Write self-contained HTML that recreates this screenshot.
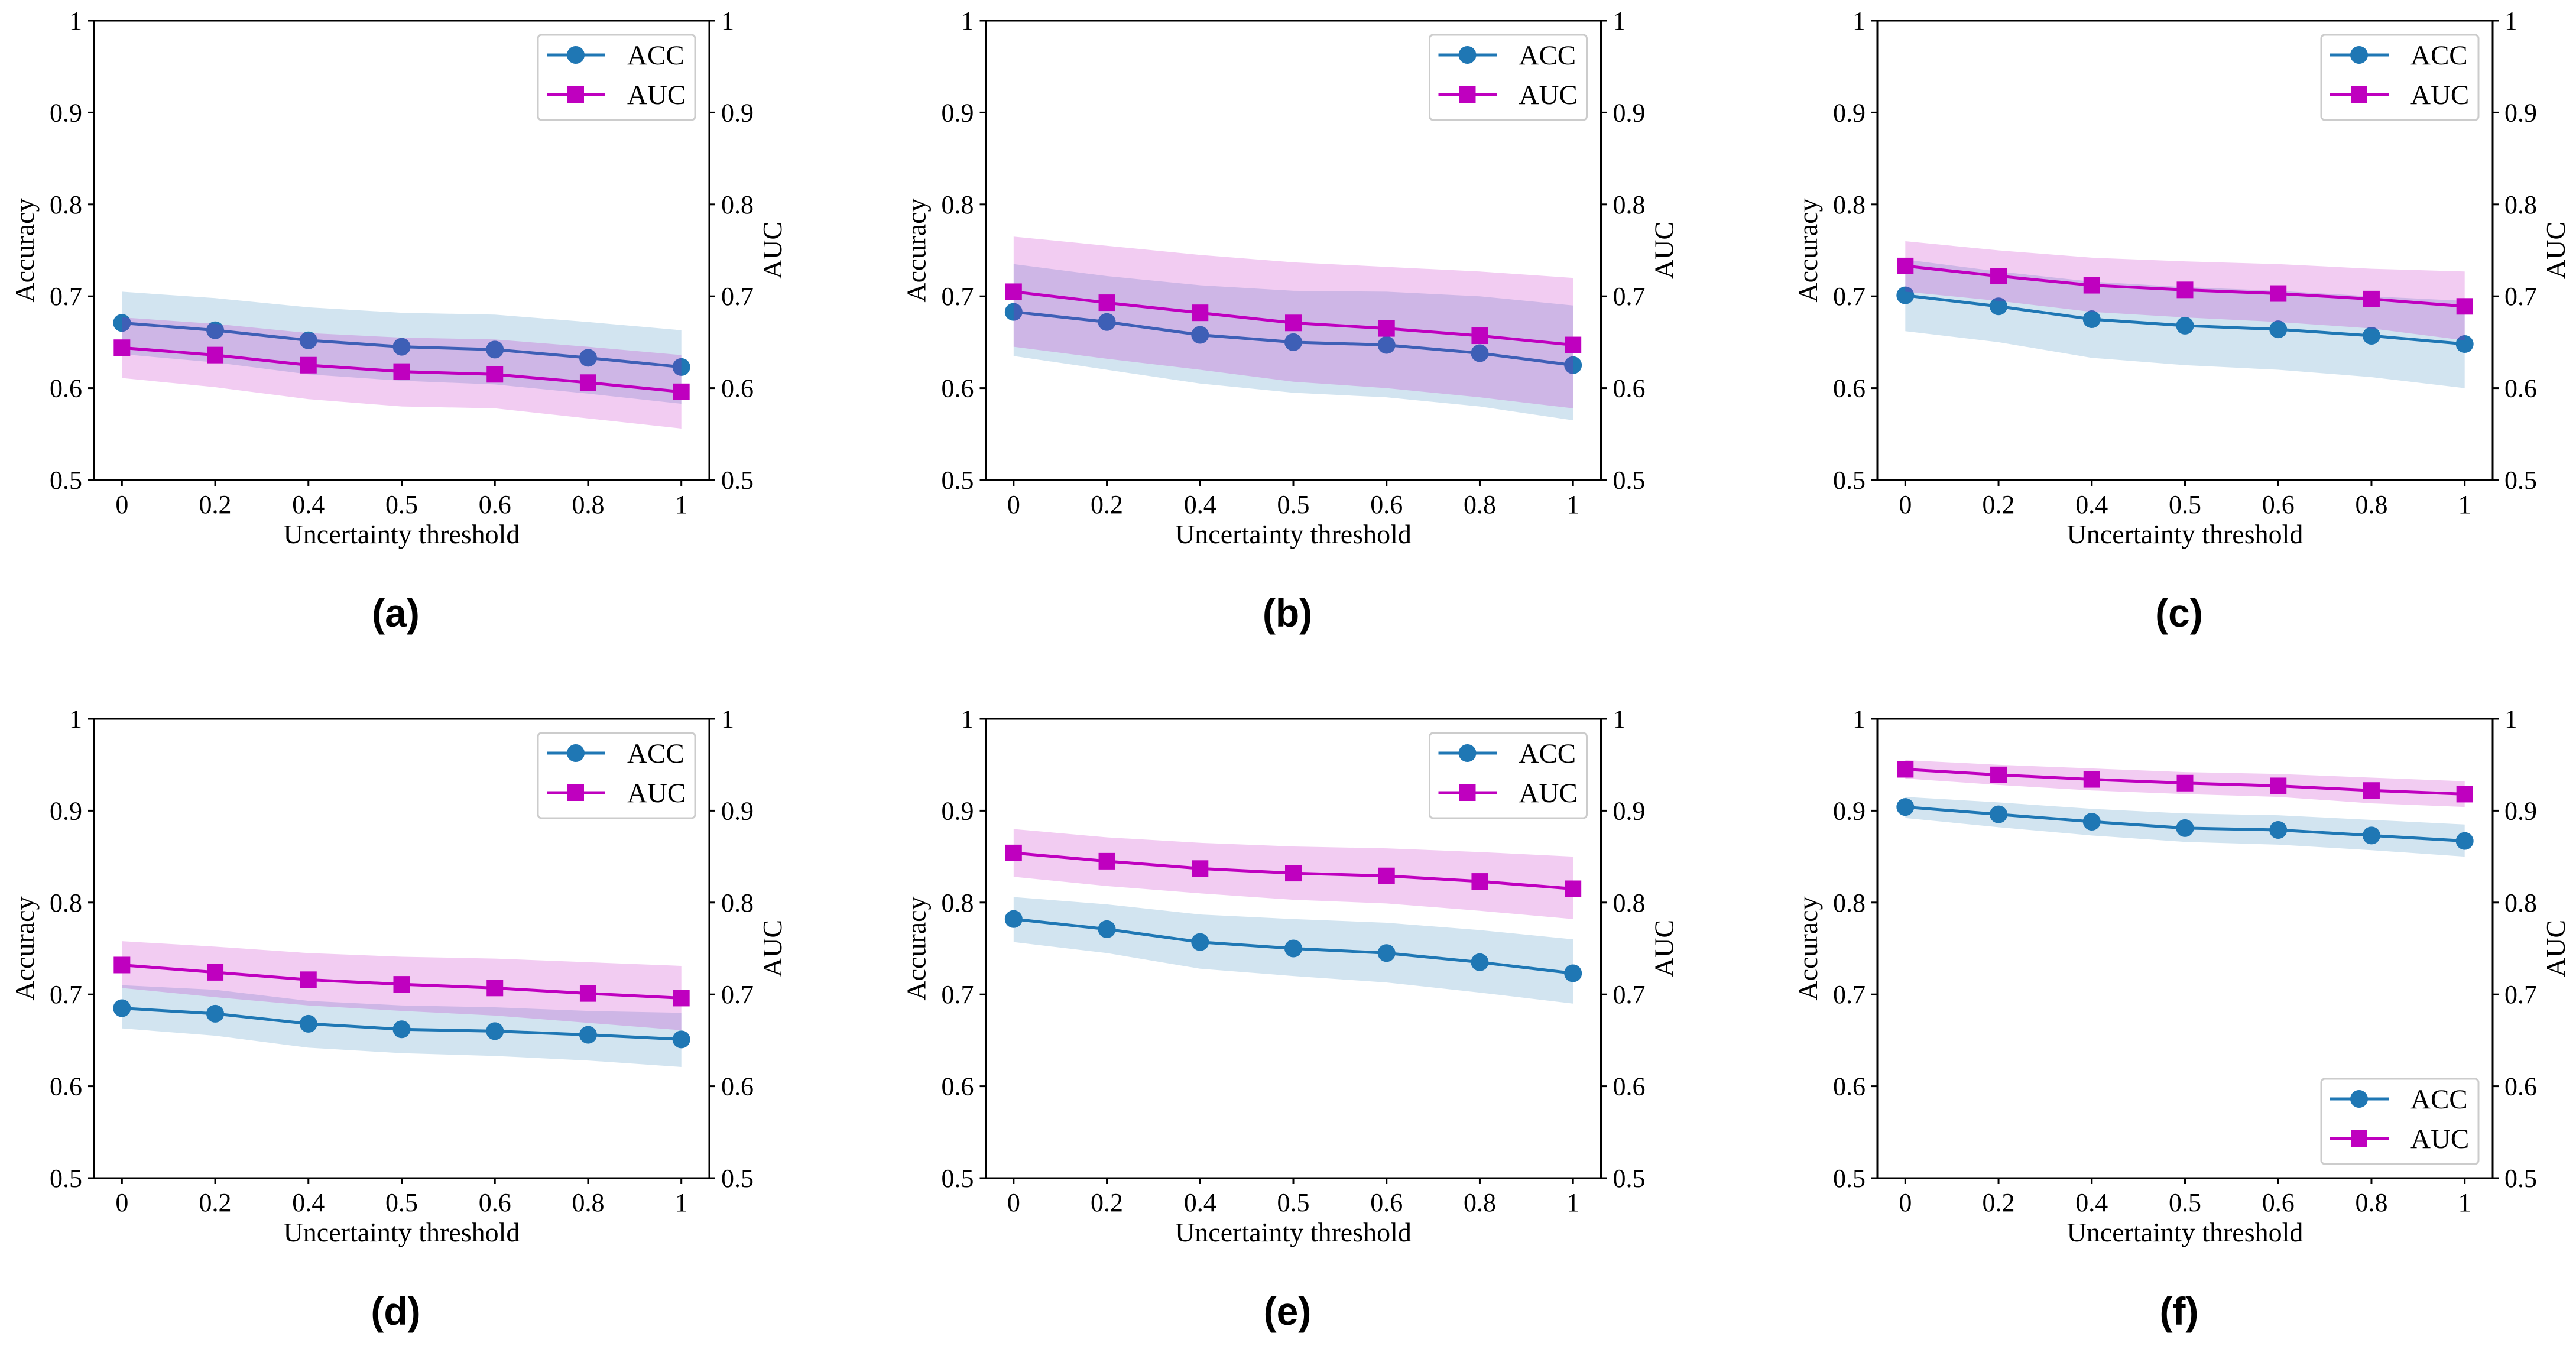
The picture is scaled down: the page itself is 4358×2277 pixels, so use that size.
<!DOCTYPE html>
<html><head><meta charset="utf-8"><style>
html,body{margin:0;padding:0;background:#fff}
svg{display:block}
text{font-family:"Liberation Serif",serif;fill:#000}
</style></head><body>
<svg id="fig" width="4358" height="2277" xmlns="http://www.w3.org/2000/svg"></svg>
<script>
const categories = ['0','0.2','0.4','0.5','0.6','0.8','1'];
const yTicks = [0.5,0.6,0.7,0.8,0.9,1];
const yTickLabels = ['0.5','0.6','0.7','0.8','0.9','1'];
const panelLabels = ['a','b','c','d','e','f'];
const accMean = [
 [.671,.663,.652,.645,.642,.633,.623],
 [.683,.672,.658,.650,.647,.638,.625],
 [.701,.689,.675,.668,.664,.657,.648],
 [.685,.679,.668,.662,.660,.656,.651],
 [.782,.771,.757,.750,.745,.735,.723],
 [.904,.896,.888,.881,.879,.873,.867]];
const accUpper = [
 [.705,.698,.688,.682,.680,.672,.663],
 [.735,.722,.712,.706,.705,.700,.690],
 [.740,.727,.716,.710,.706,.700,.695],
 [.710,.705,.693,.688,.686,.682,.680],
 [.806,.798,.787,.782,.778,.770,.760],
 [.915,.909,.902,.897,.895,.890,.885]];
const accLower = [
 [.637,.628,.615,.608,.604,.594,.583],
 [.635,.620,.605,.595,.590,.580,.565],
 [.662,.650,.633,.625,.620,.612,.600],
 [.663,.655,.642,.636,.633,.628,.621],
 [.757,.745,.728,.720,.713,.702,.690],
 [.892,.882,.873,.866,.863,.857,.850]];
const aucMean = [
 [.644,.636,.625,.618,.615,.606,.596],
 [.705,.693,.682,.671,.665,.657,.647],
 [.733,.722,.712,.707,.703,.697,.689],
 [.732,.724,.716,.711,.707,.701,.696],
 [.854,.845,.837,.832,.829,.823,.815],
 [.945,.939,.934,.930,.927,.922,.918]];
const aucUpper = [
 [.677,.670,.660,.655,.653,.645,.636],
 [.765,.755,.745,.737,.732,.727,.720],
 [.760,.750,.742,.738,.735,.730,.727],
 [.758,.752,.745,.741,.739,.735,.731],
 [.880,.871,.865,.861,.859,.855,.850],
 [.955,.950,.946,.942,.940,.936,.932]];
const aucLower = [
 [.611,.601,.588,.580,.578,.567,.556],
 [.645,.632,.620,.607,.600,.590,.578],
 [.705,.695,.683,.677,.672,.665,.652],
 [.707,.697,.688,.682,.677,.669,.661],
 [.828,.818,.810,.803,.799,.791,.782],
 [.935,.928,.922,.918,.915,.908,.904]];

const NS='http://www.w3.org/2000/svg';
const svg=document.getElementById('fig');
function mk(tag,attrs,parent){const e=document.createElementNS(NS,tag);for(const k in attrs)e.setAttribute(k,attrs[k]);(parent||svg).appendChild(e);return e;}
const W=1041,H=777;
const BLUE='#1f77b4',MAG='#bf00bf';

for(let p=0;p<6;p++){
  const L=159+(p%3)*1508.5, T=35+Math.floor(p/3)*1181;
  const g=mk('g',{});
  
  
  const n=categories.length;
  const x0=L+W*0.05/1.1, x1=L+W-W*0.05/1.1;
  const xs=i=>x0+(x1-x0)*i/(n-1);
  const ys=v=>T+H-(v-0.5)/0.5*H;
  function band(up,lo,color,name){
    let d='M'+up.map((v,i)=>xs(i)+','+ys(v)).join('L');
    for(let i=n-1;i>=0;i--)d+='L'+xs(i)+','+ys(lo[i]);
    const e=mk('path',{d:d+'Z',fill:color,'fill-opacity':0.2},g);
    
    
  }
  function line(vals,color,name,marker){
    const e=mk('polyline',{points:vals.map((v,i)=>xs(i)+','+ys(v)).join(' '),fill:'none',stroke:color,'stroke-width':5},g);
    
    
    vals.forEach((v,i)=>{
      let m;
      if(marker==='o') m=mk('circle',{cx:xs(i),cy:ys(v),r:15,fill:color},g);
      else m=mk('rect',{x:xs(i)-14,y:ys(v)-14,width:28,height:28,fill:color},g);
      
      
    });
  }
  band(accUpper[p],accLower[p],BLUE,'acc-band');
  line(accMean[p],BLUE,'acc','o');
  band(aucUpper[p],aucLower[p],MAG,'auc-band');
  line(aucMean[p],MAG,'auc','s');
  const fr=mk('rect',{x:L,y:T,width:W,height:H,fill:'none',stroke:'#000','stroke-width':3},g);
  
  
  yTicks.forEach((v,i)=>{
    const y=ys(v);
    mk('line',{x1:L-10,x2:L,y1:y,y2:y,stroke:'#000','stroke-width':3},g);
    mk('line',{x1:L+W,x2:L+W+10,y1:y,y2:y,stroke:'#000','stroke-width':3},g);
    const t1=mk('text',{x:L-20,y:y+15,'text-anchor':'end','font-size':44},g);t1.textContent=yTickLabels[i];
    
    
    const t2=mk('text',{x:L+W+20,y:y+15,'font-size':44},g);t2.textContent=yTickLabels[i];
    
    
  });
  categories.forEach((c,i)=>{
    const x=xs(i);
    mk('line',{x1:x,x2:x,y1:T+H,y2:T+H+10,stroke:'#000','stroke-width':3},g);
    const t=mk('text',{x:x,y:T+H+56,'text-anchor':'middle','font-size':44},g);t.textContent=c;
    
    
  });
  const xl=mk('text',{x:L+W/2,y:T+H+107,'text-anchor':'middle','font-size':46},g);xl.textContent='Uncertainty threshold';
  
  
  const yl=mk('text',{x:0,y:0,'text-anchor':'middle','font-size':46,transform:`translate(${L-102},${T+H/2}) rotate(-90)`},g);yl.textContent='Accuracy';
  
  
  const yr=mk('text',{x:0,y:0,'text-anchor':'middle','font-size':46,transform:`translate(${L+W+122},${T+H/2}) rotate(-90)`},g);yr.textContent='AUC';
  
  
  const lx=L+W-290, ly=(p===5)?T+H-168:T+24;
  const lg=mk('g',{},g);
  
  
  mk('rect',{x:lx,y:ly,width:266,height:144,rx:6,fill:'#fff','fill-opacity':0.8,stroke:'#ccc','stroke-width':3},lg);
  [['ACC',BLUE,'o'],['AUC',MAG,'s']].forEach((e,k)=>{
    const cy=ly+34+k*67;
    mk('line',{x1:lx+15,x2:lx+114,y1:cy,y2:cy,stroke:e[1],'stroke-width':5},lg);
    if(e[2]==='o') mk('circle',{cx:lx+64,cy:cy,r:15,fill:e[1]},lg);
    else mk('rect',{x:lx+50,y:cy-14,width:28,height:28,fill:e[1]},lg);
    const t=mk('text',{x:lx+151,y:cy+16,'font-size':47},lg);t.textContent=e[0];
    
    
  });
  const cap=mk('text',{x:L+W/2-10,y:T+1025,'text-anchor':'middle','font-size':66,'font-weight':'bold',style:'font-family:"Liberation Sans",sans-serif'},g);
  cap.textContent='('+panelLabels[p]+')';
  
  
}
</script>
</body></html>
